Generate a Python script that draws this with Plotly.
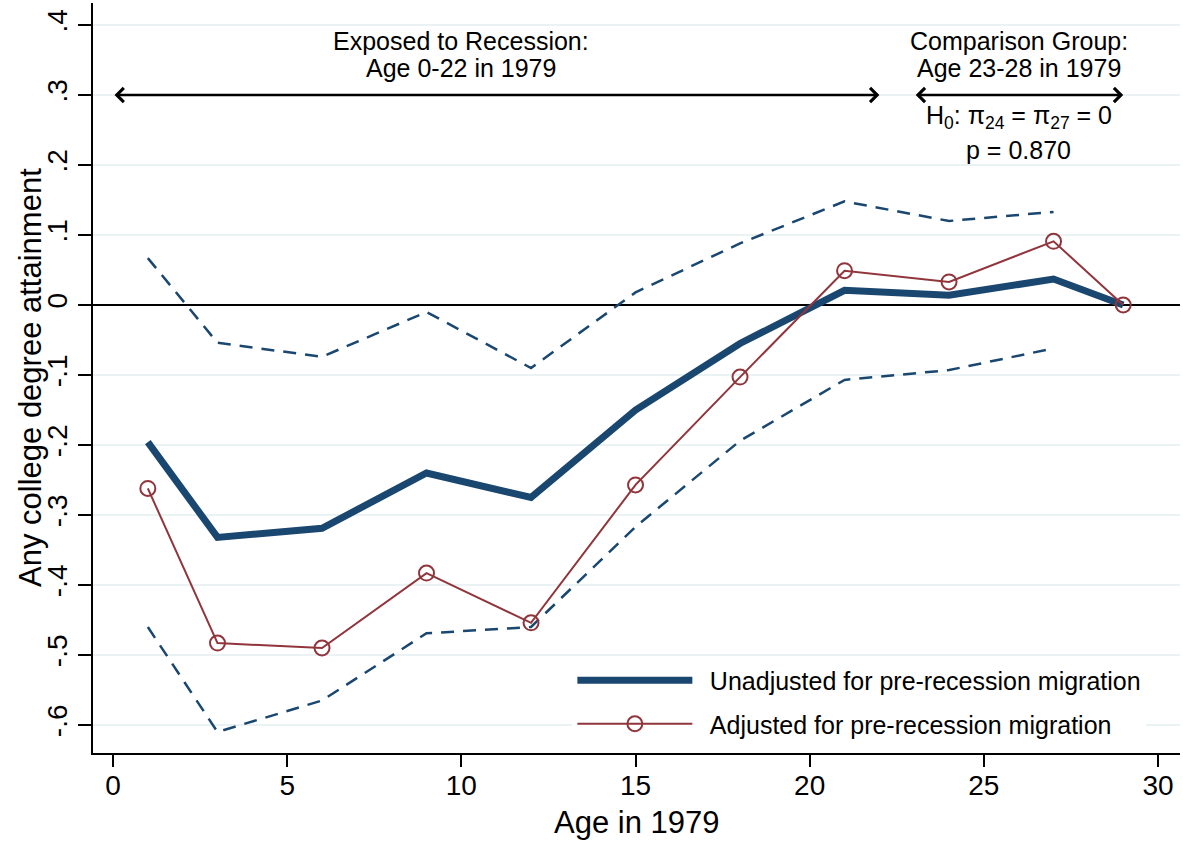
import plotly.graph_objects as go

ages = [1, 3, 6, 9, 12, 15, 18, 21, 24, 27, 29]
unadjusted = [-0.196, -0.332, -0.319, -0.240, -0.275, -0.150, -0.055, 0.021, 0.014, 0.037, 0.0]
adjusted = [-0.262, -0.483, -0.490, -0.383, -0.454, -0.257, -0.103, 0.049, 0.033, 0.091, 0.0]
ci_ages = [1, 3, 6, 9, 12, 15, 18, 21, 24, 27]
ci_upper = [0.067, -0.054, -0.074, -0.010, -0.090, 0.018, 0.088, 0.148, 0.120, 0.133]
ci_lower = [-0.460, -0.610, -0.565, -0.469, -0.460, -0.317, -0.194, -0.107, -0.093, -0.062]

y_ticks = [-0.6, -0.5, -0.4, -0.3, -0.2, -0.1, 0, 0.1, 0.2, 0.3, 0.4]
y_ticktext = ["-.6", "-.5", "-.4", "-.3", "-.2", "-.1", "0", ".1", ".2", ".3", ".4"]
x_ticks = [0, 5, 10, 15, 20, 25, 30]

NAVY = "#1a476f"
MAROON = "#90353b"
FONT = "Liberation Sans, Arial, Helvetica, sans-serif"
SP = "\u2002"

fig = go.Figure()

fig.add_trace(go.Scatter(x=ci_ages, y=ci_upper, mode="lines",
                         line=dict(color=NAVY, width=2.5, dash="13px,9px"),
                         showlegend=False, hoverinfo="skip"))
fig.add_trace(go.Scatter(x=ci_ages, y=ci_lower, mode="lines",
                         line=dict(color=NAVY, width=2.5, dash="13px,9px"),
                         showlegend=False, hoverinfo="skip"))
fig.add_trace(go.Scatter(x=ages, y=unadjusted, mode="lines",
                         line=dict(color=NAVY, width=7), legendgroup="a",
                         name=SP + "Unadjusted for pre-recession migration"))
fig.add_trace(go.Scatter(x=ages, y=adjusted, mode="lines+markers",
                         line=dict(color=MAROON, width=2), legendgroup="b",
                         marker=dict(symbol="circle-open", size=15, color=MAROON,
                                     line=dict(width=2, color=MAROON)),
                         name=SP + "Adjusted for pre-recession migration"))

# Arrows
fig.add_annotation(x=22, y=0.3, ax=0, ay=0.3, xref="x", yref="y", axref="x", ayref="y",
                   text="", showarrow=True, arrowhead=4, startarrowhead=4,
                   arrowside="end+start", arrowsize=1.1, startarrowsize=1.1,
                   arrowwidth=2.5, arrowcolor="black", standoff=0, startstandoff=0)
fig.add_annotation(x=29, y=0.3, ax=23, ay=0.3, xref="x", yref="y", axref="x", ayref="y",
                   text="", showarrow=True, arrowhead=4, startarrowhead=4,
                   arrowside="end+start", arrowsize=1.1, startarrowsize=1.1,
                   arrowwidth=2.5, arrowcolor="black", standoff=0, startstandoff=0)

txt_font = dict(family=FONT, size=25, color="black")
for xx, yy, tt in [(10, 0.377, "Exposed to Recession:"),
                   (10, 0.338, "Age 0-22 in 1979"),
                   (26, 0.377, "Comparison Group:"),
                   (26, 0.338, "Age 23-28 in 1979"),
                   (26, 0.268, "H<sub>0</sub>: π<sub>24</sub> = π<sub>27</sub> = 0"),
                   (26, 0.222, "p = 0.870")]:
    fig.add_annotation(x=xx, y=yy, xref="x", yref="y", showarrow=False, text=tt,
                       font=txt_font, align="center", xanchor="center", yanchor="middle")

# Axis titles
fig.add_annotation(x=0.5, y=0, xref="paper", yref="paper", showarrow=False,
                   text="Age in 1979", yshift=-69, yanchor="middle", xanchor="center",
                   font=dict(family=FONT, size=31, color="black"))
fig.add_annotation(x=0, y=0.5, xref="paper", yref="paper", showarrow=False,
                   text="Any college degree attainment", textangle=-90,
                   xshift=-63, xanchor="center", yanchor="middle",
                   font=dict(family=FONT, size=31, color="black"))

fig.update_layout(
    width=1183, height=842,
    margin=dict(l=93, r=3, t=3, b=89),
    paper_bgcolor="white", plot_bgcolor="white",
    font=dict(family=FONT, color="black"),
    legend=dict(x=0.441, y=0.068, xanchor="left", yanchor="middle",
                bgcolor="white", font=dict(family=FONT, size=25, color="black"),
                itemwidth=115, tracegroupgap=8),
    showlegend=True,
)

fig.update_xaxes(range=[-0.574, 30.63], tickvals=x_ticks, ticks="outside", ticklen=12,
                 tickwidth=1.5, tickcolor="black", showline=True, linecolor="black",
                 linewidth=2, showgrid=False, zeroline=False, automargin=False,
                 ticklabelstandoff=-6,
                 tickfont=dict(family=FONT, size=28, color="black"))
fig.update_yaxes(range=[-0.64, 0.4314], tickvals=y_ticks, ticktext=y_ticktext,
                 ticks="outside", ticklen=13, tickwidth=1.5, tickcolor="black",
                 tickangle=-90, showline=True, linecolor="black", linewidth=2,
                 showgrid=True, gridcolor="#eaf2f3", gridwidth=2, automargin=False,
                 zeroline=True, zerolinecolor="black", zerolinewidth=2,
                 tickfont=dict(family=FONT, size=28, color="black"))

fig.write_html("out.html", config={"displayModeBar": False},
               post_script="document.body.style.margin='0';document.body.style.overflow='hidden';")
